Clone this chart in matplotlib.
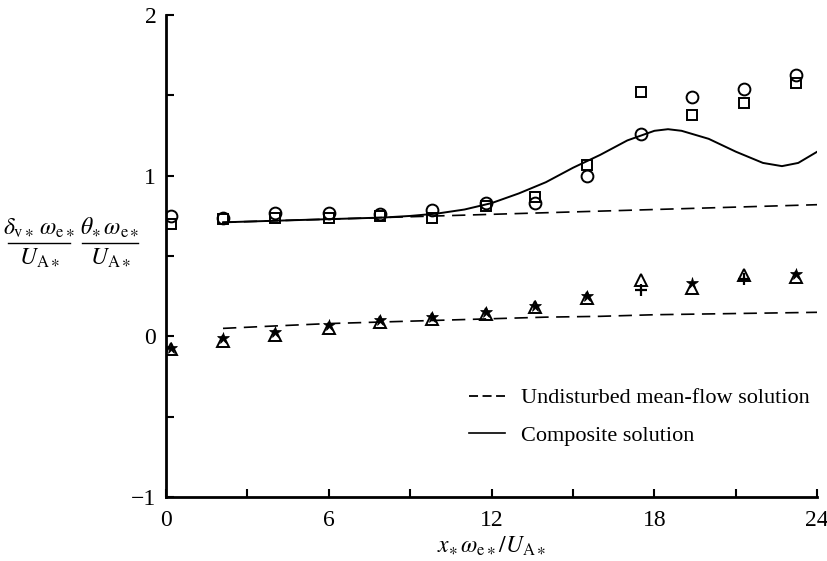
import matplotlib
matplotlib.use("Agg")
import matplotlib.pyplot as plt
from matplotlib.lines import Line2D
import numpy as np

plt.rcParams['font.family'] = ['Liberation Serif', 'DejaVu Serif']
plt.rcParams['mathtext.fontset'] = 'stix'

# measured stations
x_pts = [0.2, 2.1, 4.0, 6.0, 7.9, 9.8, 11.8, 13.6, 15.5, 17.5, 19.4, 21.3, 23.2]
# displacement thickness (circles / squares)
delta_circ = [0.75, 0.74, 0.77, 0.77, 0.76, 0.79, 0.83, 0.83, 1.00, 1.26, 1.49, 1.54, 1.63]
delta_sq = [0.70, 0.73, 0.74, 0.74, 0.75, 0.74, 0.81, 0.87, 1.07, 1.52, 1.38, 1.45, 1.58]
# momentum thickness (triangles / stars / crosses)
theta_tri = [-0.08, -0.03, 0.01, 0.05, 0.09, 0.11, 0.14, 0.18, 0.24, 0.35, 0.30, 0.38, 0.37]
theta_star = [-0.07, -0.01, 0.03, 0.07, 0.10, 0.12, 0.15, 0.19, 0.25, np.nan, 0.33, np.nan, 0.39]
theta_plus = [np.nan, np.nan, np.nan, np.nan, np.nan, np.nan, np.nan, np.nan, np.nan, 0.29, np.nan, 0.36, np.nan]

# undisturbed mean-flow solution
x_mean = [2.1, 4, 6, 8, 10, 12, 14, 16, 18, 20, 22, 24]
delta_mean = [0.71, 0.72, 0.73, 0.74, 0.75, 0.76, 0.77, 0.78, 0.79, 0.80, 0.81, 0.82]
theta_mean = [0.05, 0.065, 0.08, 0.09, 0.10, 0.11, 0.12, 0.125, 0.135, 0.14, 0.145, 0.15]

# composite solution
x_comp = [2.1, 3, 4, 5, 6, 7, 8, 9, 10, 11, 12, 13, 14, 15, 16, 17, 18, 18.5, 19, 20, 21, 22, 22.7, 23.3, 24]
delta_comp = [0.71, 0.715, 0.72, 0.725, 0.73, 0.735, 0.74, 0.75, 0.765, 0.79, 0.83, 0.89, 0.96, 1.05,
              1.13, 1.22, 1.28, 1.29, 1.28, 1.23, 1.15, 1.08, 1.06, 1.08, 1.15]

legend_labels = ['Undisturbed mean-flow solution', 'Composite solution']

xticks = [0, 3, 6, 9, 12, 15, 18, 21, 24]
xticklabels = ['0', '', '6', '', '12', '', '18', '', '24']
yticks = [-1, -0.5, 0, 0.5, 1, 1.5, 2]
yticklabels = ['\u22121', '', '0', '', '1', '', '2']

W, H = 828, 561
fig = plt.figure(figsize=(W / 100, H / 100), dpi=100)
ax = fig.add_axes([0.2005, 0.114, 0.7865, 0.859])

dash = (0, (8, 4.5))
ax.plot(x_mean, delta_mean, color='black', lw=1.2, ls=dash)
ax.plot(x_mean, theta_mean, color='black', lw=1.2, ls=dash)
ax.plot(x_comp, delta_comp, color='black', lw=1.4)

ms = 8.5
ax.plot(x_pts, delta_sq, ls='none', marker='s', ms=ms - 1, mfc='none', mec='black', mew=1.4)
ax.plot(x_pts, delta_circ, ls='none', marker='o', ms=ms, mfc='none', mec='black', mew=1.4)
ax.plot(x_pts, theta_tri, ls='none', marker='^', ms=ms, mfc='none', mec='black', mew=1.4)
ax.plot(x_pts, theta_star, ls='none', marker='*', ms=ms, mfc='black', mec='black', mew=0.5)
ax.plot(x_pts, theta_plus, ls='none', marker='+', ms=ms, mec='black', mew=1.6)

ax.set_xlim(0, 24)
ax.set_ylim(-1, 2)
ax.set_xticks(xticks)
ax.set_xticklabels(xticklabels)
ax.set_yticks(yticks)
ax.set_yticklabels(yticklabels)
for s in ['top', 'right']:
    ax.spines[s].set_visible(False)
for s in ['left', 'bottom']:
    ax.spines[s].set_linewidth(2)
ax.tick_params(direction='in', length=6, width=1.5, labelsize=17)
ax.tick_params(axis='x', pad=9)
ax.tick_params(axis='y', pad=7)

ax.set_xlabel(r'$x_{\ast}\,\omega_{\mathrm{e}\ast}/U_{\mathrm{A}\ast}$', fontsize=17, labelpad=3)

# y-axis label: two stacked fractions built from text + bar
fracs = [
    (39, 8, 70, r'$\delta_{\mathrm{v}\ast}\,\omega_{\mathrm{e}\ast}$', r'$U_{\mathrm{A}\ast}$'),
    (110, 82, 138, r'$\theta_{\ast}\,\omega_{\mathrm{e}\ast}$', r'$U_{\mathrm{A}\ast}$'),
]
bar_y = 243
for cx, x0, x1, num, den in fracs:
    fig.text(cx / W, 1 - (bar_y - 3) / H, num, fontsize=17, ha='center', va='bottom')
    fig.text(cx / W, 1 - (bar_y + 4) / H, den, fontsize=17, ha='center', va='top')
    fig.add_artist(Line2D([x0 / W, x1 / W], [1 - bar_y / H, 1 - bar_y / H],
                          transform=fig.transFigure, color='black', lw=1.0))

handles = [Line2D([], [], color='black', lw=1.3, ls=(0, (5, 2.5))),
           Line2D([], [], color='black', lw=1.2)]
ax.legend(handles, legend_labels, loc='upper left', bbox_to_anchor=(0.452, 0.245), frameon=False,
          fontsize=16, handlelength=1.6, handletextpad=0.75, labelspacing=0.75, borderaxespad=0)

fig.savefig('out.png', dpi=100)
